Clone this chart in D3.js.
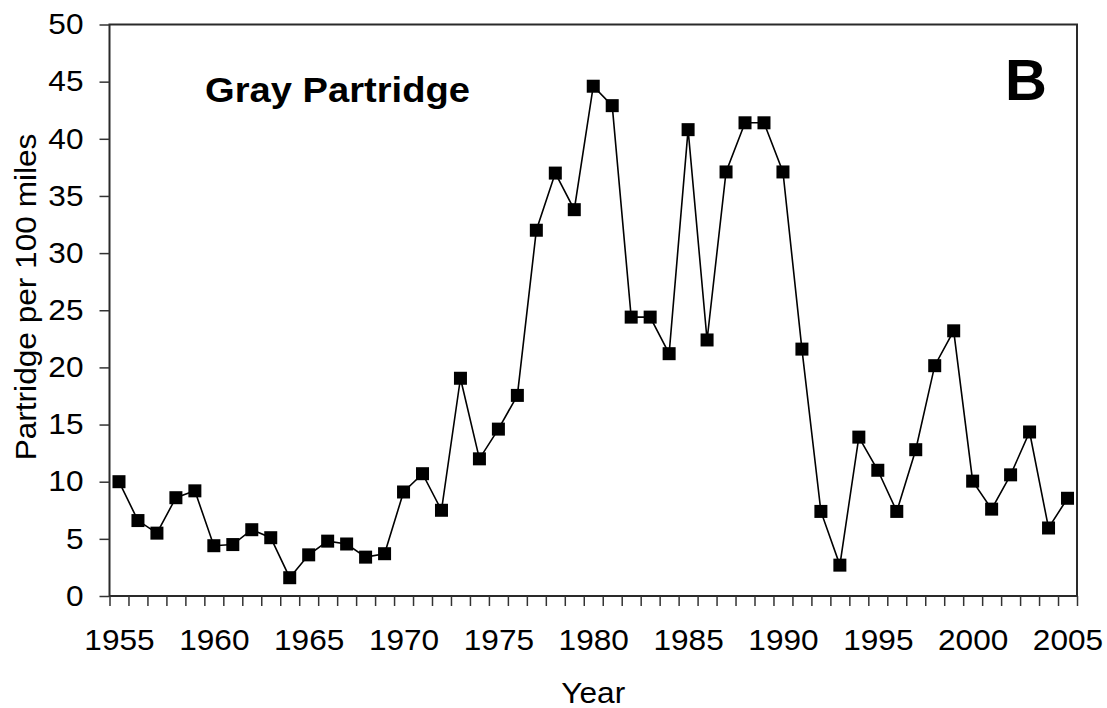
<!DOCTYPE html>
<html>
<head>
<meta charset="utf-8">
<script src="https://cdn.jsdelivr.net/npm/d3@7"></script>
<style>
  body { margin: 0; background: #fff; }
  svg { display: block; font-family: "Liberation Sans", Arial, sans-serif; }
</style>
</head>
<body>
<script>
// survey years and counts (partridge per 100 miles)
var years = d3.range(1955, 2006);
var counts = [
  10.0, 6.6, 5.5, 8.6, 9.2, 4.4, 4.5, 5.8, 5.1, 1.6,
  3.6, 4.8, 4.55, 3.4, 3.7, 9.1, 10.7, 7.5, 19.05, 12.0,
  14.6, 17.55, 32.0, 37.0, 33.8, 44.6, 42.9, 24.4, 24.4, 21.2,
  40.8, 22.4, 37.1, 41.4, 41.4, 37.1, 21.6, 7.4, 2.7, 13.9,
  11.0, 7.4, 12.8, 20.15, 23.2, 10.05, 7.6, 10.6, 14.35, 5.95,
  8.55
];
var yTicks = [0, 5, 10, 15, 20, 25, 30, 35, 40, 45, 50];
var xLabels = [1955, 1960, 1965, 1970, 1975, 1980, 1985, 1990, 1995, 2000, 2005];

var width = 1107,
    height = 708;

// plot area edges
var plotLeft = 109.5, plotRight = 1077, plotTop = 24.5, plotBottom = 596;
var stretch = 1.09; // text in the picture is a bit wider than Arial

var svg = d3.select("body").append("svg")
    .attr("width", width)
    .attr("height", height);

// years sit in the middle of each category slot
var x = d3.scaleLinear()
    .domain([1954.5, 2005.5])
    .range([plotLeft, plotRight]);

var y = d3.scaleLinear()
    .domain([0, 50])
    .range([plotBottom, plotTop]);

// widen a text element around its anchor point
function widen(sel){
    sel.each(function(){
        var t = d3.select(this);
        var tx = +t.attr("x") || 0, ty = +t.attr("y") || 0;
        t.attr("x", 0).attr("y", 0)
         .attr("transform", "translate(" + tx + "," + ty + ") scale(" + stretch + ",1)");
    });
}

// plot frame
svg.append("rect")
    .attr("x", plotLeft).attr("y", plotTop)
    .attr("width", plotRight - plotLeft).attr("height", plotBottom - plotTop)
    .attr("fill", "none")
    .attr("stroke", "#2a2a2a")
    .attr("stroke-width", 2);

// y axis
var yAxis = svg.append("g")
    .attr("transform", "translate(" + plotLeft + ",0)")
    .call(d3.axisLeft(y).tickValues(yTicks).tickSize(10).tickPadding(16));
yAxis.select(".domain").remove();
yAxis.selectAll("line").attr("stroke", "#333").attr("stroke-width", 1.5);
yAxis.selectAll("text")
    .attr("fill", "#000")
    .style("font-size", "29px")
    .call(widen);

// x axis ticks on every slot boundary
var bounds = d3.range(1954.5, 2006, 1);
var xTickAxis = svg.append("g")
    .attr("transform", "translate(0," + plotBottom + ")")
    .call(d3.axisBottom(x).tickValues(bounds).tickSize(10).tickFormat(""));
xTickAxis.select(".domain").remove();
xTickAxis.selectAll("line").attr("stroke", "#333").attr("stroke-width", 1.5);

// x labels every 5 years
var xLabelAxis = svg.append("g")
    .attr("transform", "translate(0," + plotBottom + ")")
    .call(d3.axisBottom(x).tickValues(xLabels).tickSize(0).tickPadding(33.5).tickFormat(d3.format("d")));
xLabelAxis.select(".domain").remove();
xLabelAxis.selectAll("text")
    .attr("fill", "#000")
    .style("font-size", "29px")
    .call(widen);

// axis titles
svg.append("text")
    .attr("x", (plotLeft + plotRight) / 2)
    .attr("y", 703)
    .attr("text-anchor", "middle")
    .style("font-size", "29px")
    .text("Year")
    .call(widen);

svg.append("text")
    .attr("transform", "translate(36," + 297 + ") rotate(-90) scale(" + stretch + ",1)")
    .attr("text-anchor", "middle")
    .style("font-size", "29px")
    .text("Partridge per 100 miles");

// in-plot labels
svg.append("text")
    .attr("x", 205)
    .attr("y", 102)
    .style("font-size", "35px")
    .style("font-weight", "bold")
    .text("Gray Partridge")
    .call(widen);

svg.append("text")
    .attr("x", 1005)
    .attr("y", 100)
    .style("font-size", "58px")
    .style("font-weight", "bold")
    .text("B");

// series line
var line = d3.line()
    .x(function(d, i){ return x(years[i]); })
    .y(function(d){ return y(d); });

svg.append("path")
    .datum(counts)
    .attr("d", line)
    .attr("fill", "none")
    .attr("stroke", "#000")
    .attr("stroke-width", 1.6);

// square markers
var size = 13;
svg.selectAll(".marker")
    .data(counts)
    .enter()
    .append("rect")
    .attr("class", "marker")
    .attr("x", function(d, i){ return x(years[i]) - size / 2; })
    .attr("y", function(d){ return y(d) - size / 2; })
    .attr("width", size)
    .attr("height", size)
    .attr("fill", "#000");
</script>
</body>
</html>
